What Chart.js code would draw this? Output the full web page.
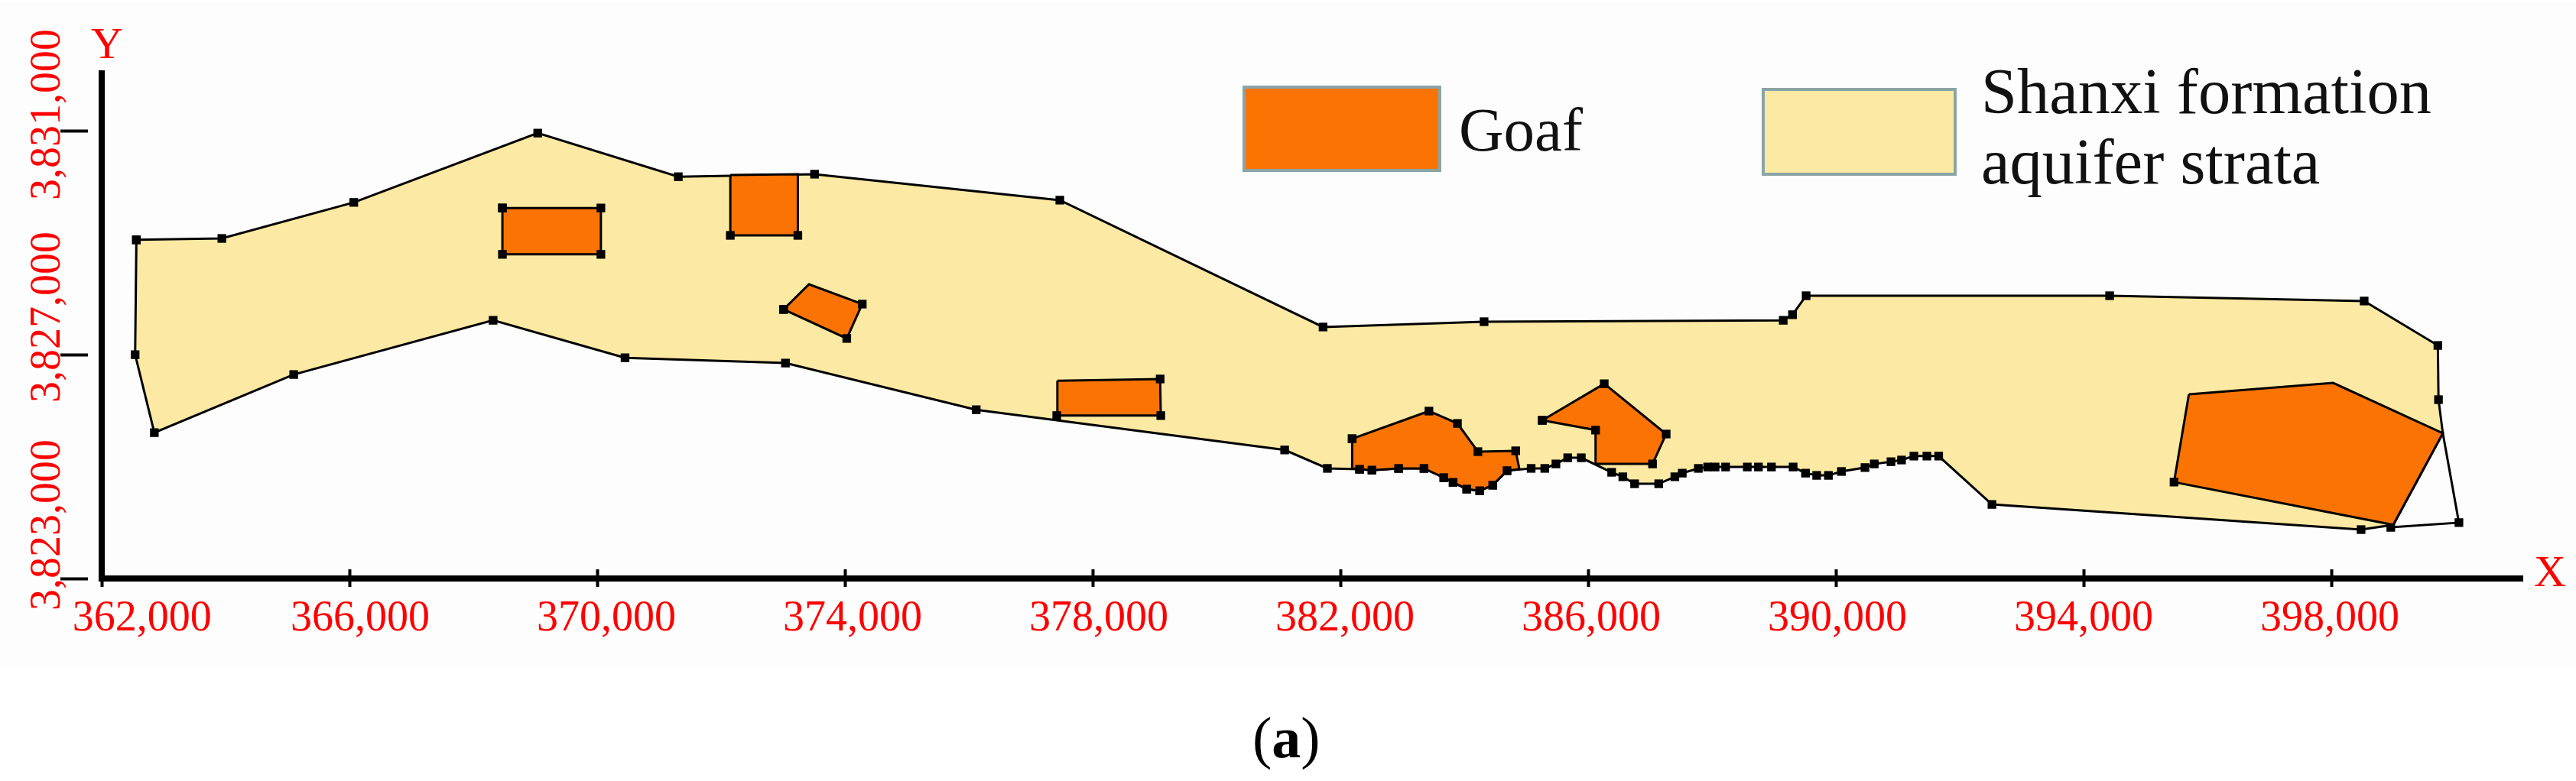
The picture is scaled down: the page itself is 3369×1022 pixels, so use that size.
<!DOCTYPE html>
<html>
<head>
<meta charset="utf-8">
<title>Goaf and Shanxi formation aquifer strata</title>
<script src="https://cdn.jsdelivr.net/npm/chart.js@4/dist/chart.umd.js"></script>
<style>
  html, body { margin: 0; padding: 0; background: #fff; }
  canvas { display: block; }
</style>
</head>
<body>
<canvas id="mapChart" width="3369" height="1022"></canvas>
<script>
// Axis ticks
const xTickValues = [362000, 366000, 370000, 374000, 378000, 382000, 386000, 390000, 394000, 398000];
const xTickLabels = ['362,000', '366,000', '370,000', '374,000', '378,000', '382,000', '386,000', '390,000', '394,000', '398,000'];
const yTickValues = [3823000, 3827000, 3831000];
const yTickLabels = ['3,823,000', '3,827,000', '3,831,000'];

// Aquifer outline
const aquiferX = [362560, 363940, 366070, 369040, 371310, 373510, 377470, 381720, 384320, 389150, 389300, 389520, 394420, 398530, 399720, 399730, 399800, 399000, 398480, 392520, 391660, 391470, 391260, 391060, 390890, 390620, 390470, 390090, 389880, 389690, 389510, 389310, 388960, 388750, 388570, 388220, 388050, 387930, 387780, 387520, 387400, 387140, 386750, 386560, 386380, 385890, 385670, 385480, 385300, 385080, 384690, 384460, 384250, 384040, 383820, 383670, 383350, 382940, 382510, 382310, 381790, 381100, 376120, 373040, 370450, 368320, 365100, 362850, 362540];
const aquiferY = [3829060, 3829085, 3829730, 3830970, 3830190, 3830235, 3829770, 3827500, 3827595, 3827620, 3827720, 3828060, 3828060, 3827965, 3827170, 3826200, 3825600, 3823960, 3823875, 3824325, 3825190, 3825190, 3825190, 3825120, 3825090, 3825050, 3824985, 3824915, 3824845, 3824845, 3824885, 3824995, 3824995, 3824995, 3824995, 3824995, 3824995, 3824995, 3824970, 3824885, 3824820, 3824695, 3824695, 3824820, 3824900, 3825160, 3825160, 3825050, 3824970, 3824970, 3824930, 3824670, 3824570, 3824600, 3824720, 3824805, 3824970, 3824970, 3824940, 3824955, 3824970, 3825300, 3826020, 3826855, 3826950, 3827620, 3826650, 3825610, 3827005];
const aquiferBare = [16, 17];

// Part of the outline that runs outside the filled strata, east end
const tailX = [399800, 400060, 398960];
const tailY = [3825600, 3824000, 3823915];

// Goaf polygons
const goaf1X = [368470, 370060, 370060, 368470];
const goaf1Y = [3829630, 3829630, 3828800, 3828800];
const goaf2X = [372150, 373240, 373240, 372150];
const goaf2Y = [3830220, 3830235, 3829140, 3829140];
const goaf3X = [373010, 373420, 374280, 374030];
const goaf3Y = [3827815, 3828265, 3827910, 3827295];
const goaf4X = [377430, 379090, 379100, 377420];
const goaf4Y = [3826540, 3826570, 3825915, 3825915];
const goaf5X = [382190, 383430, 383890, 384220, 384830, 384890, 384690, 384460, 384250, 384040, 383820, 383670, 383350, 382940, 382510, 382310, 382190];
const goaf5Y = [3825500, 3825995, 3825775, 3825270, 3825285, 3824955, 3824930, 3824670, 3824570, 3824600, 3824720, 3824805, 3824970, 3824970, 3824940, 3824955, 3824970];
const goaf6X = [385260, 386260, 387260, 387040, 386120, 386120];
const goaf6Y = [3825830, 3826485, 3825585, 3825050, 3825050, 3825655];
const goaf7X = [395700, 398030, 399800, 399000, 395460];
const goaf7Y = [3826295, 3826500, 3825600, 3823960, 3824725];

const yellow = '#fce9a3';
const orange = '#fb7403';
const red = '#ff0000';
const serif = '"Liberation Serif", serif';

function toPoints(xs, ys, closed) {
  const pts = xs.map((x, i) => ({ x: x, y: ys[i] }));
  if (closed) pts.push({ x: xs[0], y: ys[0] });
  return pts;
}

function polygon(label, xs, ys, color, bare, order) {
  return {
    label: label,
    data: toPoints(xs, ys, true),
    showLine: true,
    fill: 'shape',
    backgroundColor: color,
    borderColor: '#000',
    borderWidth: 3,
    tension: 0,
    pointStyle: 'rect',
    pointBackgroundColor: '#000',
    pointBorderWidth: 0,
    pointRadius: ctx => {
      const last = xs.length;
      const i = ctx.dataIndex === last ? 0 : ctx.dataIndex;
      return bare.includes(i) ? 0 : 8;
    },
    order: order
  };
}

// Same limits on every x / y axis so they all line up
const xMin = 362000, xMax = 401086;
const yMin = 3823000, yMax = 3832039;

// Tick labels sit off their ticks in the original, nudges are in axis units
const xLabelNudge = [650, 173, 148, 123, 99, 74, 49, 25, 0, -25];
const yLabelNudge = [957, 677, 301];

const extras = {
  id: 'extras',
  beforeDraw(chart) {
    const c = chart.ctx;
    c.save();
    c.fillStyle = '#fff';
    c.fillRect(0, 0, chart.width, chart.height);
    c.fillStyle = '#fdfdfd';
    c.fillRect(0, 3, chart.width, 867);
    c.restore();
  },
  afterDraw(chart) {
    const c = chart.ctx;
    c.save();

    // legend swatches
    c.lineWidth = 4;
    c.strokeStyle = '#8aa4a6';
    c.fillStyle = orange;
    c.fillRect(1627, 114, 256, 109);
    c.strokeRect(1627, 114, 256, 109);
    c.fillStyle = yellow;
    c.fillRect(2306, 117, 251, 111);
    c.strokeRect(2306, 117, 251, 111);

    // legend text
    c.fillStyle = '#111';
    c.textAlign = 'left';
    c.textBaseline = 'alphabetic';
    c.font = '81px ' + serif;
    c.fillText('Goaf', 1908, 197);
    c.font = '84.5px ' + serif;
    c.fillText('Shanxi formation', 2591, 148);
    c.fillText('aquifer strata', 2591, 240);

    // axis names
    c.fillStyle = red;
    c.textAlign = 'center';
    c.font = '58px ' + serif;
    c.fillText('Y', 140, 76);
    c.fillText('X', 3335, 767);

    // panel letter
    c.fillStyle = '#000';
    c.textAlign = 'left';
    c.font = '76px ' + serif;
    c.fillText('(', 1638, 991);
    const openW = c.measureText('(').width;
    c.font = 'bold 76px ' + serif;
    c.fillText('a', 1638 + openW, 991);
    const aW = c.measureText('a').width;
    c.font = '76px ' + serif;
    c.fillText(')', 1638 + openW + aW, 991);
    c.restore();
  }
};

new Chart(document.getElementById('mapChart'), {
  type: 'scatter',
  data: {
    datasets: [
      polygon('Shanxi formation aquifer strata', aquiferX, aquiferY, yellow, aquiferBare, 3),
      {
        label: 'Outline',
        data: toPoints(tailX, tailY, false),
        showLine: true,
        fill: false,
        borderColor: '#000',
        borderWidth: 3,
        pointStyle: 'rect',
        pointBackgroundColor: '#000',
        pointBorderWidth: 0,
        pointRadius: ctx => ctx.dataIndex === 0 ? 0 : 8,
        order: 2
      },
      polygon('Goaf', goaf1X, goaf1Y, orange, [], 1),
      polygon('Goaf', goaf2X, goaf2Y, orange, [0, 1], 1),
      polygon('Goaf', goaf3X, goaf3Y, orange, [1], 1),
      polygon('Goaf', goaf4X, goaf4Y, orange, [0], 1),
      polygon('Goaf', goaf5X, goaf5Y, orange, [5, 16], 1),
      polygon('Goaf', goaf6X, goaf6Y, orange, [4], 1),
      polygon('Goaf', goaf7X, goaf7Y, orange, [0, 1, 2, 3], 1)
    ]
  },
  options: {
    responsive: false,
    devicePixelRatio: 1,
    animation: false,
    layout: { padding: { top: 96, right: 70, left: 0, bottom: 0 } },
    plugins: { legend: { display: false }, tooltip: { enabled: false } },
    scales: {
      // main axes: only the thick lines, right against the plot area
      x: {
        type: 'linear', position: 'bottom', min: xMin, max: xMax, weight: 0,
        grid: { display: false },
        ticks: { display: false },
        border: { display: true, color: '#000', width: 8 },
        afterFit: s => { s.height = 0; }
      },
      y: {
        type: 'linear', position: 'left', min: yMin, max: yMax, weight: 0,
        grid: { display: false },
        ticks: { display: false },
        border: { display: true, color: '#000', width: 8 },
        afterFit: s => { s.width = 0; }
      },
      // tick marks crossing the axis lines
      xMarks: {
        axis: 'x', type: 'linear', position: { y: 3823164 }, min: xMin, max: xMax,
        grid: { drawOnChartArea: false, drawTicks: true, tickLength: 23, tickWidth: 4, tickColor: '#000' },
        border: { display: false },
        ticks: { display: false },
        afterBuildTicks: s => { s.ticks = xTickValues.map(v => ({ value: v })); }
      },
      yMarks: {
        axis: 'y', type: 'linear', position: { x: 361778 }, min: yMin, max: yMax,
        grid: { drawOnChartArea: false, drawTicks: true, tickLength: 36, tickWidth: 4, tickColor: '#000' },
        border: { display: false },
        ticks: { display: false },
        afterBuildTicks: s => { s.ticks = yTickValues.map(v => ({ value: v })); }
      },
      // tick labels
      xText: {
        axis: 'x', type: 'linear', position: 'bottom', min: xMin, max: xMax, weight: 1,
        grid: { display: false, drawTicks: false },
        border: { display: false },
        ticks: {
          autoSkip: false, maxRotation: 0, minRotation: 0, padding: 20,
          color: red, font: { family: serif, size: 56 },
          callback: (v, i) => xTickLabels[i]
        },
        afterBuildTicks: s => { s.ticks = xTickValues.map((v, i) => ({ value: v + xLabelNudge[i] })); },
        afterFit: s => { s.height = 265; }
      },
      yText: {
        axis: 'y', type: 'linear', position: 'left', min: yMin, max: yMax, weight: 1,
        grid: { display: false, drawTicks: false },
        border: { display: false },
        ticks: {
          autoSkip: false, maxRotation: 90, minRotation: 90, padding: -42, crossAlign: 'center',
          color: red, font: { family: serif, size: 56 },
          callback: (v, i) => yTickLabels[i]
        },
        afterBuildTicks: s => { s.ticks = yTickValues.map((v, i) => ({ value: v + yLabelNudge[i] })); },
        afterFit: s => { s.width = 133; }
      }
    }
  },
  plugins: [extras]
});
</script>
</body>
</html>
